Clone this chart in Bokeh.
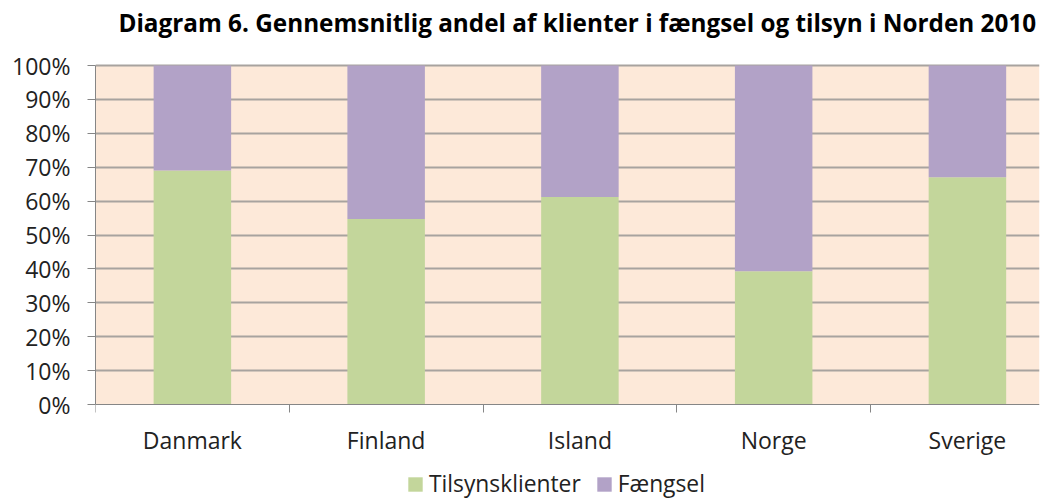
import numpy as np
from bokeh.plotting import figure
from bokeh.models import (ColumnDataSource, FixedTicker, NumeralTickFormatter,
                          Legend, LegendItem, Range1d, LinearAxis, BoxAnnotation, Label)
from bokeh.embed import file_html
from bokeh.resources import INLINE

countries = ["Danmark", "Finland", "Island", "Norge", "Sverige"]
tilsyn = [0.690, 0.547, 0.612, 0.393, 0.670]
faengsel = [1 - v for v in tilsyn]
series_names = ["Tilsynsklienter", "Fængsel"]
colors = ["#C3D69B", "#B2A2C7"]
title_text = "Diagram 6. Gennemsnitlig andel af klienter i fængsel  og tilsyn i Norden 2010"

FONT = "Open Sans"
centers = list(np.arange(len(countries)) + 0.5)
src = ColumnDataSource(dict(x=centers, tilsyn=tilsyn, faengsel=faengsel))

# frame spans the full height; value axis 0..1 occupies the middle part
PX_PER_UNIT = 339.0
y_lo = -95 / PX_PER_UNIT
y_hi = 1 + 65 / PX_PER_UNIT

p = figure(width=1040, height=499, output_backend="svg", toolbar_location=None,
           x_range=Range1d(0, 4.872), y_range=Range1d(y_lo, y_hi),
           x_axis_location=None,
           min_border_left=95, min_border_right=1, min_border_top=0,
           min_border_bottom=0)
p.background_fill_color = "white"
p.border_fill_color = "white"
p.outline_line_color = None

p.add_layout(BoxAnnotation(bottom=0, top=1, fill_color="#FDE9D9", fill_alpha=1,
                           line_color=None, level="image"))

r = p.vbar_stack(["tilsyn", "faengsel"], x="x", width=0.4, source=src,
                 color=colors, line_color=None)

# y axis
p.yaxis.bounds = (0, 1)
p.yaxis.ticker = FixedTicker(ticks=[i / 10 for i in range(11)])
p.yaxis.formatter = NumeralTickFormatter(format="0%")
p.yaxis.axis_line_color = "#868686"
p.yaxis.major_tick_line_color = "#868686"
p.yaxis.major_tick_out = 8
p.yaxis.major_tick_in = 0
p.yaxis.minor_tick_line_color = None
p.yaxis.major_label_text_font = FONT
p.yaxis.major_label_text_font_size = "23px"
p.yaxis.major_label_text_color = "#222222"
p.yaxis.major_label_standoff = 17

# x axis at value 0
xa = LinearAxis(fixed_location=0,
                ticker=FixedTicker(ticks=centers, minor_ticks=list(range(len(countries) + 1))))
xa.major_label_overrides = {c: n for c, n in zip(centers, countries)}
xa.axis_line_color = "#868686"
xa.major_tick_line_color = None
xa.minor_tick_line_color = "#868686"
xa.minor_tick_out = 8
xa.minor_tick_in = 0
xa.major_label_text_font = FONT
xa.major_label_text_font_size = "23px"
xa.major_label_text_color = "#222222"
xa.major_label_standoff = 11
p.add_layout(xa, "below")

p.xgrid.grid_line_color = None
p.ygrid.ticker = FixedTicker(ticks=[i / 10 for i in range(1, 11)])
p.ygrid.grid_line_color = "#A8A39F"
p.ygrid.grid_line_width = 2

p.add_layout(Label(x=947, y=477, x_units="screen", y_units="screen", text=title_text,
                   text_font=FONT, text_font_style="bold", text_font_size="24.3px",
                   text_color="black", text_align="right", text_baseline="middle"))

legend = Legend(items=[LegendItem(label=series_names[i], renderers=[r[i]]) for i in range(2)],
                orientation="horizontal", location=(311, 0),
                label_text_font=FONT, label_text_font_size="22.8px",
                label_text_color="#222222", glyph_width=18, glyph_height=18,
                spacing=14, label_standoff=5, padding=0, margin=0,
                border_line_color=None, background_fill_alpha=0)
p.add_layout(legend, "center")

open("out.html", "w").write(file_html(p, INLINE))
